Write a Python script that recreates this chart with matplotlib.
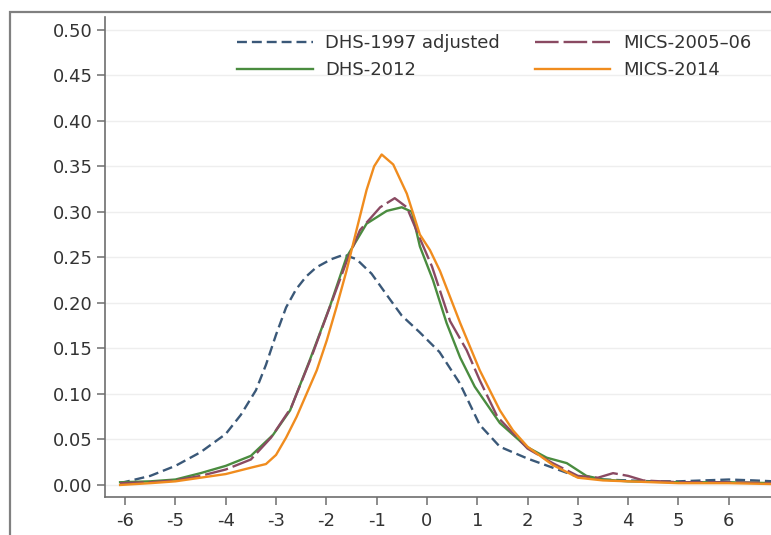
import matplotlib
matplotlib.use("Agg")

import matplotlib.pyplot as plt
from matplotlib.patches import Rectangle

# density curves
dhs1997_x = [-6.1, -5.5, -5.0, -4.5, -4.0, -3.7, -3.4, -3.2, -3.0, -2.8, -2.6, -2.4, -2.2,
             -1.9, -1.65, -1.4, -1.1, -0.75, -0.5, -0.15, 0.25, 0.65, 1.05, 1.45, 2.0,
             2.45, 3.0, 3.5, 4.0, 4.5, 5.0, 5.5, 6.0, 6.5, 6.9]
dhs1997_y = [0.002, 0.010, 0.021, 0.036, 0.056, 0.077, 0.104, 0.132, 0.165, 0.195, 0.215, 0.229, 0.239,
             0.248, 0.253, 0.248, 0.232, 0.205, 0.186, 0.168, 0.146, 0.112, 0.066, 0.042, 0.029,
             0.020, 0.009, 0.006, 0.005, 0.004, 0.004, 0.005, 0.006, 0.005, 0.004]

dhs2012_x = [-6.1, -5.5, -5.0, -4.5, -4.0, -3.5, -3.06, -2.72, -2.33, -1.93, -1.6, -1.2,
             -0.8, -0.5, -0.3, -0.14, 0.12, 0.39, 0.66, 0.95, 1.2, 1.45, 1.98, 2.38,
             2.78, 3.17, 3.5, 4.0, 5.0, 6.0, 6.9]
dhs2012_y = [0.003, 0.004, 0.006, 0.013, 0.021, 0.032, 0.055, 0.082, 0.137, 0.196, 0.250, 0.287,
             0.301, 0.305, 0.300, 0.262, 0.225, 0.178, 0.140, 0.108, 0.088, 0.068, 0.042, 0.030,
             0.024, 0.010, 0.006, 0.004, 0.003, 0.003, 0.002]

mics2005_x = [-6.1, -5.5, -5.0, -4.5, -4.0, -3.5, -3.1, -2.7, -2.3, -1.9, -1.6, -1.33,
              -0.93, -0.64, -0.4, -0.15, 0.1, 0.46, 0.79, 1.05, 1.4, 2.0, 2.5, 3.0,
              3.4, 3.7, 4.0, 4.3, 5.0, 6.0, 6.9]
mics2005_y = [0.002, 0.003, 0.005, 0.010, 0.017, 0.028, 0.052, 0.085, 0.140, 0.200, 0.245, 0.280,
              0.305, 0.315, 0.305, 0.272, 0.240, 0.180, 0.148, 0.115, 0.075, 0.040, 0.024, 0.010,
              0.008, 0.013, 0.010, 0.005, 0.003, 0.003, 0.002]

mics2014_x = [-6.1, -5.5, -5.0, -4.5, -4.0, -3.5, -3.2, -3.0, -2.8, -2.59, -2.19, -1.99,
              -1.8, -1.6, -1.4, -1.2, -1.05, -0.9, -0.67, -0.4, -0.14, 0.06, 0.26, 0.66,
              1.05, 1.45, 1.71, 2.0, 2.5, 3.0, 3.5, 4.0, 5.0, 6.0, 6.9]
mics2014_y = [0.000, 0.002, 0.004, 0.008, 0.012, 0.019, 0.023, 0.033, 0.052, 0.075, 0.126, 0.159,
              0.195, 0.235, 0.280, 0.324, 0.350, 0.363, 0.352, 0.320, 0.275, 0.258, 0.235, 0.178,
              0.126, 0.082, 0.060, 0.042, 0.022, 0.008, 0.005, 0.004, 0.002, 0.002, 0.001]

x_ticks = [-6, -5, -4, -3, -2, -1, 0, 1, 2, 3, 4, 5, 6]
y_ticks = [0.00, 0.05, 0.10, 0.15, 0.20, 0.25, 0.30, 0.35, 0.40, 0.45, 0.50]

plt.rcParams["font.family"] = ["DejaVu Sans"]
plt.rcParams["axes.unicode_minus"] = False

W, H = 771, 535
fig = plt.figure(figsize=(W / 100, H / 100), dpi=100)
ax = fig.add_axes([105 / W, (H - 497) / H, 1 - 105 / W, (497 - 17) / H])

lw = 1.7
ax.plot(dhs1997_x, dhs1997_y, color="#3a5878", lw=lw, dashes=(4.2, 2.1),
        label="DHS-1997 adjusted")
ax.plot(dhs2012_x, dhs2012_y, color="#4a8c3f", lw=lw, label="DHS-2012")
ax.plot(mics2005_x, mics2005_y, color="#8a4a62", lw=lw, dashes=(10, 2.1),
        label="MICS-2005–06")
ax.plot(mics2014_x, mics2014_y, color="#f08c1e", lw=lw, label="MICS-2014")

ax.set_xlim(-6.4, 6.84)
ax.set_ylim(-0.0132, 0.514)
ax.set_xticks(x_ticks)
ax.set_xticklabels([str(t) for t in x_ticks])
ax.set_yticks(y_ticks)
ax.set_yticklabels([f"{t:.2f}" for t in y_ticks])

ax.grid(axis="y", color="#eeeeee", lw=1.0)
ax.set_axisbelow(True)
for side in ["top", "right"]:
    ax.spines[side].set_visible(False)
for side in ["left", "bottom"]:
    ax.spines[side].set_color("#6e6e6e")
    ax.spines[side].set_linewidth(1.2)
ax.tick_params(axis="both", colors="#6e6e6e", labelcolor="#333333",
               labelsize=13, length=6, width=1.1)
ax.tick_params(axis="y", pad=3)
ax.tick_params(axis="x", pad=5)

ax.legend(loc="upper left", bbox_to_anchor=(237 / W, 1 - 34 / H),
          bbox_transform=fig.transFigure, ncol=2, frameon=False, fontsize=13,
          borderpad=0, borderaxespad=0, handlelength=4.2, handletextpad=0.7,
          columnspacing=1.9, labelspacing=0.52, labelcolor="#333333")

# outer graph frame, cut off by the image edges
frame_top = 1 - 12 / H
fig.patches.append(Rectangle((10 / W, -0.2), 1.2, frame_top + 0.2,
                             transform=fig.transFigure, fill=False,
                             edgecolor="#808080", lw=1.6, clip_on=False))

fig.savefig("out.png", dpi=100)
